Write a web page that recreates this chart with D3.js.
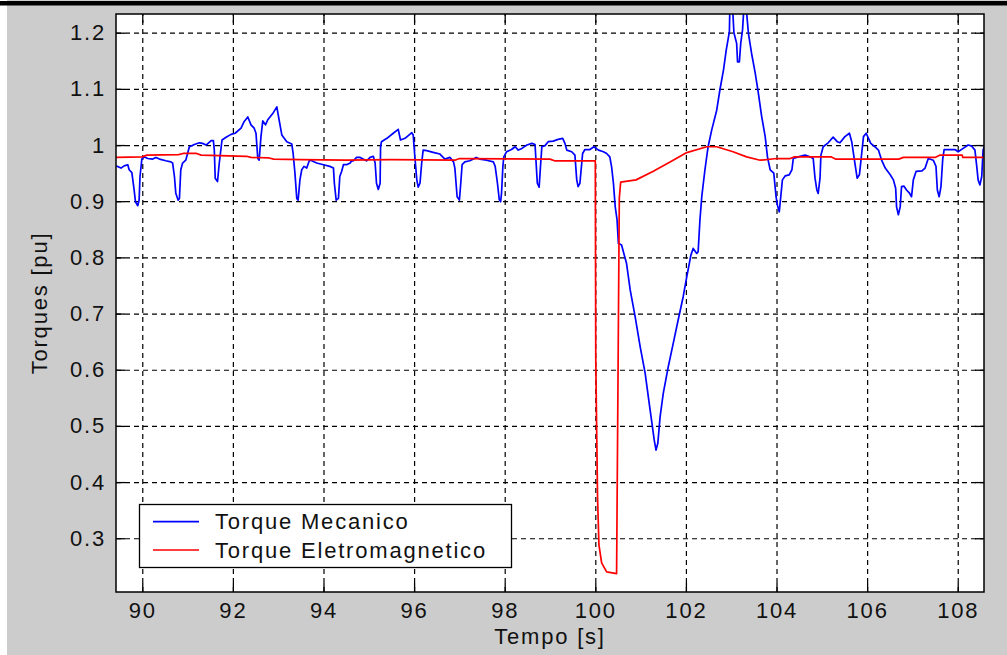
<!DOCTYPE html>
<html><head><meta charset="utf-8">
<script src="https://cdn.jsdelivr.net/npm/d3@7"></script>
<style>
html,body{margin:0;padding:0;background:#fff;}
svg text{font-family:"Liberation Sans",Arial,sans-serif;fill:#111;}
</style></head><body>
<svg id="c" width="1007" height="655"></svg>
<script>
// ---- data ----
const xTicks = [90, 92, 94, 96, 98, 100, 102, 104, 106, 108];
const xTickLabels = ["90","92","94","96","98","100","102","104","106","108"];
const yTicks = [0.3, 0.4, 0.5, 0.6, 0.7, 0.8, 0.9, 1.0, 1.1, 1.2];
const yTickLabels = ["0.3","0.4","0.5","0.6","0.7","0.8","0.9","1","1.1","1.2"];
const seriesNames = ["Torque Mecanico", "Torque Eletromagnetico"];
const seriesColors = ["#0000ff", "#ff0000"];
const xLabel = "Tempo [s]";
const yLabel = "Torques [pu]";

// Torque Mecanico [time, value]
const mecT = [89.42,89.53,89.60,89.68,89.71,89.77,89.82,89.85,89.90,89.93,89.95,89.99,90.04,90.12,90.23,90.30,90.38,90.52,90.63,90.67,90.71,90.74,90.79,90.82,90.85,90.89,90.96,91.00,91.04,91.15,91.26,91.33,91.41,91.52,91.57,91.59,91.61,91.66,91.70,91.76,91.85,91.96,92.05,92.18,92.25,92.33,92.40,92.47,92.51,92.55,92.58,92.62,92.66,92.72,92.77,92.88,92.97,93.02,93.08,93.19,93.30,93.33,93.37,93.41,93.44,93.48,93.52,93.57,93.63,93.69,93.74,93.85,94.00,94.14,94.22,94.24,94.28,94.33,94.36,94.40,94.44,94.51,94.59,94.62,94.66,94.73,94.81,94.95,95.03,95.10,95.14,95.17,95.21,95.25,95.26,95.28,95.40,95.54,95.65,95.70,95.80,95.95,95.98,96.02,96.06,96.09,96.13,96.17,96.20,96.28,96.42,96.57,96.68,96.79,96.87,96.90,96.95,97.00,97.03,97.06,97.12,97.23,97.31,97.37,97.45,97.60,97.75,97.79,97.84,97.88,97.91,97.93,97.96,97.98,98.04,98.15,98.23,98.30,98.38,98.49,98.60,98.67,98.69,98.72,98.76,98.79,98.82,98.89,98.96,99.07,99.18,99.28,99.33,99.37,99.48,99.55,99.59,99.62,99.66,99.72,99.77,99.88,99.97,100.07,100.18,100.25,100.32,100.36,100.40,100.44,100.48,100.51,100.58,100.63,100.69,100.77,100.88,100.99,101.10,101.19,101.25,101.30,101.34,101.38,101.43,101.50,101.61,101.72,101.83,101.94,102.02,102.11,102.16,102.24,102.27,102.31,102.35,102.42,102.49,102.57,102.68,102.75,102.83,102.89,102.96,102.97,103.03,103.06,103.12,103.14,103.18,103.21,103.25,103.28,103.33,103.38,103.45,103.53,103.60,103.67,103.75,103.80,103.86,103.94,103.99,104.02,104.06,104.09,104.13,104.19,104.28,104.34,104.37,104.48,104.63,104.74,104.81,104.85,104.89,104.92,104.96,104.98,105.03,105.14,105.25,105.34,105.40,105.51,105.61,105.66,105.73,105.78,105.83,105.88,105.92,105.98,106.03,106.08,106.17,106.25,106.32,106.40,106.51,106.58,106.63,106.65,106.69,106.73,106.76,106.81,106.87,106.93,106.98,107.02,107.08,107.21,107.28,107.35,107.46,107.52,107.55,107.59,107.63,107.67,107.70,107.83,107.94,108.01,108.12,108.23,108.31,108.38,108.42,108.45,108.49,108.53,108.56,108.60,108.64];
const mecV = [0.963,0.959,0.963,0.965,0.956,0.951,0.920,0.899,0.892,0.902,0.944,0.975,0.979,0.976,0.975,0.978,0.975,0.972,0.970,0.968,0.944,0.914,0.902,0.905,0.956,0.968,0.973,0.985,0.997,1.001,1.004,1.003,1.000,1.008,1.008,0.991,0.941,0.935,0.968,1.009,1.014,1.019,1.021,1.030,1.042,1.050,1.036,1.030,1.021,0.976,0.973,1.015,1.043,1.036,1.045,1.056,1.068,1.045,1.018,1.006,1.002,0.985,0.950,0.905,0.902,0.938,0.956,0.962,0.959,0.973,0.972,0.968,0.965,0.962,0.959,0.932,0.902,0.905,0.944,0.953,0.965,0.965,0.968,0.972,0.972,0.978,0.978,0.972,0.978,0.980,0.968,0.932,0.921,0.932,0.997,1.006,1.012,1.021,1.028,1.009,1.012,1.022,1.018,0.976,0.938,0.925,0.932,0.970,0.991,0.990,0.987,0.984,0.975,0.978,0.970,0.959,0.908,0.902,0.932,0.965,0.970,0.972,0.975,0.978,0.975,0.973,0.970,0.962,0.932,0.903,0.899,0.914,0.962,0.979,0.988,0.992,0.997,0.991,0.994,1.000,1.003,1.001,0.973,0.932,0.925,0.962,0.997,0.999,1.006,1.007,1.010,1.012,1.003,0.991,0.988,0.982,0.938,0.926,0.932,0.985,0.992,0.992,0.997,0.991,0.988,0.985,0.979,0.961,0.932,0.890,0.867,0.825,0.822,0.807,0.789,0.742,0.694,0.641,0.594,0.540,0.505,0.475,0.457,0.469,0.516,0.558,0.605,0.647,0.689,0.730,0.766,0.804,0.816,0.807,0.810,0.867,0.908,0.956,0.997,1.027,1.062,1.098,1.134,1.169,1.202,1.245,1.245,1.200,1.181,1.148,1.148,1.181,1.205,1.245,1.245,1.199,1.163,1.128,1.092,1.052,1.015,0.979,0.956,0.950,0.908,0.893,0.881,0.905,0.938,0.945,0.947,0.956,0.976,0.979,0.982,0.979,0.976,0.941,0.920,0.914,0.941,0.982,0.997,1.004,1.014,1.006,1.004,1.015,1.021,1.006,0.968,0.941,0.947,0.985,1.015,1.021,1.012,1.003,0.997,0.991,0.973,0.959,0.947,0.938,0.923,0.890,0.876,0.890,0.926,0.927,0.920,0.915,0.908,0.938,0.953,0.954,0.959,0.976,0.973,0.962,0.920,0.908,0.926,0.976,0.992,0.992,0.992,0.988,0.994,1.000,0.998,0.991,0.962,0.938,0.929,0.944,0.991,1.000,1.009];

// Torque Eletromagnetico [time, value]
const eleT = [89.40,90.00,90.10,90.80,90.90,91.20,91.30,92.30,92.40,92.80,92.90,93.50,94.50,95.50,96.90,97.00,99.00,99.10,100.00,100.01,100.05,100.08,100.14,100.25,100.47,100.49,100.53,100.56,100.90,101.27,101.65,102.00,102.46,102.68,103.04,103.34,103.64,104.00,104.30,104.40,105.20,105.30,106.70,106.80,107.50,107.60,108.10,108.11,108.60];
const eleV = [0.978,0.979,0.982,0.983,0.985,0.985,0.982,0.980,0.978,0.977,0.975,0.974,0.973,0.974,0.973,0.976,0.975,0.972,0.972,0.620,0.372,0.288,0.256,0.240,0.237,0.460,0.906,0.934,0.938,0.953,0.970,0.986,0.997,0.997,0.988,0.979,0.973,0.976,0.976,0.979,0.979,0.975,0.975,0.978,0.978,0.982,0.982,0.978,0.978];

const xDomain = [89.42, 108.58];
const yDomain = [0.2043, 1.2333];

// ---- layout ----
const svg = d3.select("#c");
const P = {left:116, top:14, right:984, bottom:592};
const W = P.right - P.left, H = P.bottom - P.top;
const FS = 22, LS = "1.8px";

svg.append("rect").attr("x",7).attr("y",0).attr("width",1000).attr("height",655).attr("fill","#cccccc");
svg.append("rect").attr("x",0).attr("y",1).attr("width",1007).attr("height",4.5).attr("fill","#000");

const x = d3.scaleLinear().domain(xDomain).range([0, W]);
const y = d3.scaleLinear().domain(yDomain).range([H, 0]);

const g = svg.append("g").attr("transform", `translate(${P.left},${P.top})`);
g.append("rect").attr("width",W).attr("height",H).attr("fill","#fff");

// grid
const gridX = g.append("g").attr("transform",`translate(0,${H})`)
  .call(d3.axisBottom(x).tickValues(xTicks).tickSize(-H).tickFormat(""));
const gridY = g.append("g")
  .call(d3.axisLeft(y).tickValues(yTicks).tickSize(-W).tickFormat(""));
[gridX, gridY].forEach(s => {
  s.select(".domain").remove();
  s.selectAll(".tick line").attr("stroke","#000").attr("stroke-width",1.2).attr("stroke-dasharray","5,4");
});

// lines
g.append("clipPath").attr("id","clip").append("rect").attr("width",W).attr("height",H);
const line = d3.line().x(d=>x(d[0])).y(d=>y(d[1]));
const mec = mecT.map((t,i)=>[t, mecV[i]]);
const ele = eleT.map((t,i)=>[t, eleV[i]]);
const lg = g.append("g").attr("clip-path","url(#clip)");
lg.append("path").datum(mec).attr("d",line).attr("fill","none").attr("stroke",seriesColors[0]).attr("stroke-width",1.7).attr("stroke-linejoin","round");
lg.append("path").datum(ele).attr("d",line).attr("fill","none").attr("stroke",seriesColors[1]).attr("stroke-width",1.7).attr("stroke-linejoin","round");

// axes with inward ticks
const tl = 9;
const fmtX = (d)=>xTickLabels[xTicks.indexOf(d)];
const fmtY = (d)=>yTickLabels[yTicks.indexOf(d)];
const axB = g.append("g").attr("transform",`translate(0,${H})`)
  .call(d3.axisBottom(x).tickValues(xTicks).tickSizeInner(-tl).tickSizeOuter(0).tickPadding(10).tickFormat(fmtX));
const axT = g.append("g")
  .call(d3.axisTop(x).tickValues(xTicks).tickSizeInner(-tl).tickSizeOuter(0).tickFormat(""));
const axL = g.append("g")
  .call(d3.axisLeft(y).tickValues(yTicks).tickSizeInner(-tl).tickSizeOuter(0).tickPadding(10).tickFormat(fmtY));
const axR = g.append("g").attr("transform",`translate(${W},0)`)
  .call(d3.axisRight(y).tickValues(yTicks).tickSizeInner(-tl).tickSizeOuter(0).tickFormat(""));
[axB,axT,axL,axR].forEach(s=>{
  s.select(".domain").remove();
  s.selectAll(".tick line").attr("stroke","#000").attr("stroke-width",1.3);
  s.selectAll(".tick text").attr("font-size",FS).attr("letter-spacing",LS)
    .attr("font-family",'"Liberation Sans",Arial,sans-serif').attr("fill","#111");
});
g.append("rect").attr("width",W).attr("height",H).attr("fill","none").attr("stroke","#000").attr("stroke-width",1.5);

// axis labels
svg.append("text").attr("x",P.left+W/2).attr("y",644).attr("text-anchor","middle")
  .attr("font-size",FS).attr("letter-spacing",LS).text(xLabel);
svg.append("text").attr("transform",`translate(47,${P.top+H/2}) rotate(-90)`).attr("text-anchor","middle")
  .attr("font-size",FS).attr("letter-spacing",LS).text(yLabel);

// legend
const leg = svg.append("g");
leg.append("rect").attr("x",139.5).attr("y",504.5).attr("width",372).attr("height",63)
  .attr("fill","#fff").attr("stroke","#000").attr("stroke-width",1.3);
seriesNames.forEach((n,i)=>{
  const yy = 521.7 + i*28.3;
  leg.append("line").attr("x1",153).attr("x2",199).attr("y1",yy).attr("y2",yy)
    .attr("stroke",seriesColors[i]).attr("stroke-width",1.7);
  leg.append("text").attr("x",215).attr("y",yy+7.5).attr("font-size",FS).attr("letter-spacing",LS).text(n);
});
</script>
</body></html>
